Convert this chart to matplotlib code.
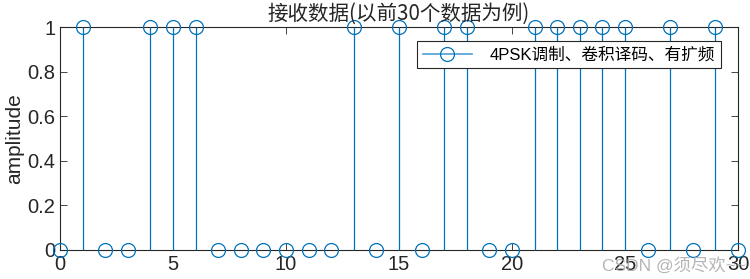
import numpy as np
import matplotlib.pyplot as plt
from matplotlib.lines import Line2D
from matplotlib.legend_handler import HandlerLine2D

plt.rcParams['font.family'] = ['Liberation Sans', 'Noto Sans CJK SC', 'DejaVu Sans']

n = list(range(31))
amplitude = [0, 1, 0, 0, 1, 1, 1, 0, 0, 0, 0, 0, 0, 1, 0, 1,
             0, 1, 1, 0, 0, 1, 1, 1, 1, 1, 0, 1, 0, 1, 0]
title = '接收数据(以前30个数据为例)'
legend_label = '4PSK调制、卷积译码、有扩频'
blue = '#0072BD'
dark = '#262626'


# matlab-like stem legend: line with the circle at its right end
class StemHandler(HandlerLine2D):
    def get_xdata(self, legend, xdescent, ydescent, width, height, fontsize):
        xdata = np.array([-xdescent, -xdescent + width])
        return xdata, np.array([-xdescent + width])


fig = plt.figure(figsize=(7.5, 2.79), dpi=100)
ax = fig.add_axes([0.08, 0.104, 0.904, 0.799])

markerline, stemlines, baseline = ax.stem(n, amplitude, linefmt='-', markerfmt='o', basefmt=' ')
plt.setp(stemlines, color=blue, linewidth=0.9)
plt.setp(markerline, markerfacecolor='none', markeredgecolor=blue, markersize=10, markeredgewidth=0.9)
markerline.set_clip_on(False)
stemlines.set_clip_on(False)

ax.set_xlim(0, 30)
ax.set_ylim(0, 1)
ax.set_xticks([0, 5, 10, 15, 20, 25, 30])
ax.set_yticks([0, 0.2, 0.4, 0.6, 0.8, 1])
ax.set_yticklabels(['0', '0.2', '0.4', '0.6', '0.8', '1'])
ax.tick_params(direction='in', top=True, right=True, labelsize=14.5, colors=dark, length=5, width=0.6)
for s in ax.spines.values():
    s.set_linewidth(0.8)
    s.set_color(dark)
    s.set_zorder(0)

ax.set_ylabel('amplitude', fontsize=15, color=dark, labelpad=2)
ax.set_title(title, fontsize=14.8, color=dark, pad=5,
             family=['Noto Sans CJK SC', 'DejaVu Sans'])

handle = Line2D([], [], color='#4d9fd6', linewidth=1.2, marker='o', markersize=10,
                markerfacecolor='none', markeredgecolor=blue, markeredgewidth=0.9)
leg = ax.legend([handle], [legend_label], handler_map={handle: StemHandler()},
                loc='upper right', bbox_to_anchor=(0.975, 0.937), borderaxespad=0,
                fontsize=12, frameon=True, fancybox=False, framealpha=1,
                edgecolor=dark, borderpad=0.35, handlelength=2.9, handletextpad=1.1)
leg.get_frame().set_linewidth(0.8)

fig.text(0.994, 0.02, 'CSDN @须尽欢~~', ha='right', va='bottom', fontsize=12.5, color='#a8a8a8', alpha=0.85)

fig.savefig('out.png', dpi=100)
